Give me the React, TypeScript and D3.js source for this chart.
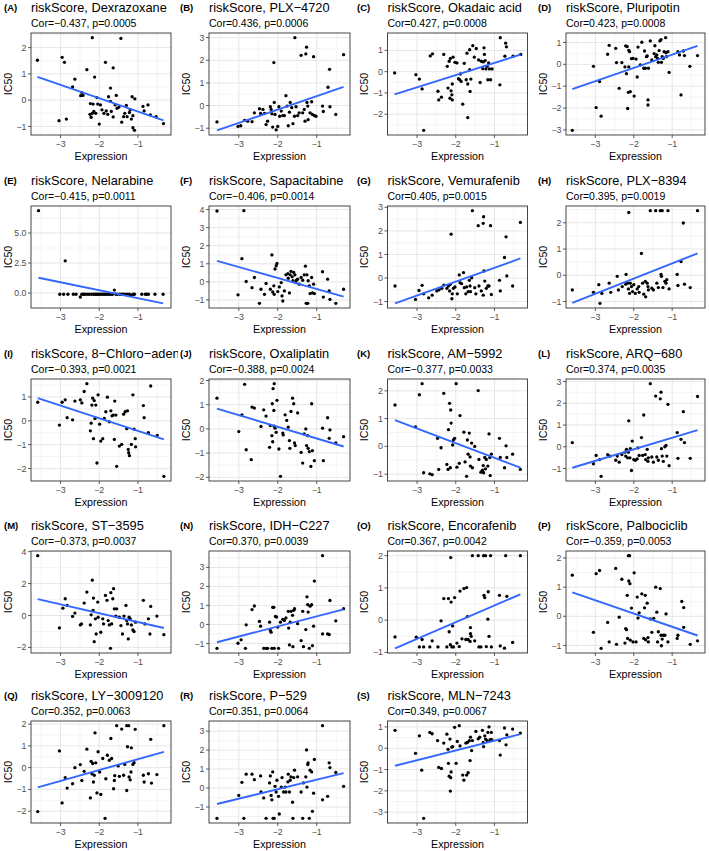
import React from 'react';
import * as d3 from 'd3';

type P = [number, number];

const panelLabels = ['A','B','C','D','E','F','G','H','I','J','K','L','M','N','O','P','Q','R','S'];
const drugs = ['Dexrazoxane','PLX−4720','Okadaic acid','Pluripotin','Nelarabine','Sapacitabine','Vemurafenib','PLX−8394','8−Chloro−adenosine','Oxaliplatin','AM−5992','ARQ−680','ST−3595','IDH−C227','Encorafenib','Palbociclib','LY−3009120','P−529','MLN−7243'];
const cors = ['−0.437','0.436','0.427','0.423','−0.415','−0.406','0.405','0.395','−0.393','−0.388','−0.377','0.374','−0.373','0.370','0.367','−0.359','0.352','0.351','0.349'];
const pvals = ['0.0005','0.0006','0.0008','0.0008','0.0011','0.0014','0.0015','0.0019','0.0021','0.0024','0.0033','0.0035','0.0037','0.0039','0.0042','0.0053','0.0063','0.0064','0.0067'];
const yTicks: number[][] = [
  [-1,0,1,2],[-1,0,1,2,3],[-2,-1,0,1],[-3,-2,-1,0,1],
  [0,2.5,5],[-1,0,1,2,3,4],[-1,0,1,2,3],[-1,0,1,2],
  [-2,-1,0,1],[-2,-1,0,1,2],[-1,0,1,2],[-1,0,1,2,3],
  [-2,0,2,4],[-1,0,1,2,3],[-1,0,1,2],[-1,0,1,2],
  [-2,-1,0,1,2],[-1,0,1,2,3],[-3,-2,-1,0,1],
];
const xTicks = [-3,-2,-1];

const ptsA: P[] = [[-3.60,1.52],[-3.04,-0.78],[-2.96,1.63],[-2.90,1.44],[-2.85,-0.72],[-2.69,0.50],[-2.63,0.80],[-2.48,0.17],[-2.45,0.29],[-2.42,0.18],[-2.32,1.16],[-2.18,2.38],[-2.23,-0.13],[-2.24,-0.54],[-2.21,-0.65],[-2.18,-0.50],[-2.16,-0.15],[-2.14,-0.43],[-2.12,0.88],[-2.09,-0.50],[-2.06,0.10],[-2.04,-0.15],[-2.00,-0.91],[-1.97,-0.18],[-1.93,-0.37],[-1.88,-0.50],[-1.84,1.44],[-1.82,-0.41],[-1.78,-0.54],[-1.76,0.13],[-1.71,0.46],[-1.71,-0.05],[-1.69,-0.43],[-1.64,1.23],[-1.64,-0.64],[-1.59,-0.18],[-1.56,0.18],[-1.54,-0.31],[-1.49,-0.26],[-1.44,2.35],[-1.42,-0.84],[-1.37,-0.63],[-1.34,-0.50],[-1.30,-0.20],[-1.28,-0.63],[-1.22,-0.47],[-1.20,-0.37],[-1.17,-0.72],[-1.15,0.13],[-1.13,-0.59],[-1.13,-1.05],[-1.09,-1.15],[-1.08,0.05],[-0.87,-0.24],[-0.84,-0.41],[-0.74,-0.18],[-0.68,-0.56],[-0.53,-0.63],[-0.34,-0.89]];
const ptsB: P[] = [[-3.56,-0.72],[-3.02,-0.92],[-2.95,-0.89],[-2.85,-0.65],[-2.77,-0.69],[-2.66,-0.71],[-2.60,-0.32],[-2.47,-0.14],[-2.44,-0.35],[-2.38,-0.17],[-2.34,-0.35],[-2.30,-0.84],[-2.26,-0.69],[-2.19,-0.05],[-2.17,-0.17],[-2.15,-0.36],[-2.13,-0.95],[-2.10,1.90],[-2.09,0.14],[-2.07,-0.39],[-2.04,-1.07],[-2.00,-0.92],[-1.97,-0.05],[-1.95,-0.47],[-1.91,-0.24],[-1.87,-0.44],[-1.83,-0.44],[-1.79,0.44],[-1.76,-0.02],[-1.73,-0.89],[-1.70,-0.29],[-1.68,0.14],[-1.64,-0.09],[-1.61,-0.80],[-1.57,-0.47],[-1.56,3.0],[-1.53,-0.05],[-1.49,-0.44],[-1.45,-0.32],[-1.40,2.22],[-1.36,-0.32],[-1.32,-0.17],[-1.30,-0.69],[-1.28,2.28],[-1.26,2.58],[-1.25,0.14],[-1.23,-0.02],[-1.22,-0.62],[-1.17,-0.32],[-1.13,0.17],[-1.11,-0.39],[-1.06,-0.44],[-1.08,2.16],[-1.02,-0.47],[-0.85,-0.02],[-0.83,-0.26],[-0.71,0.81],[-0.67,1.60],[-0.66,-0.05],[-0.51,-0.39],[-0.31,2.25]];
const ptsC: P[] = [[-3.58,-0.06],[-3.03,-0.14],[-2.94,-0.35],[-2.87,-0.81],[-2.83,-2.76],[-2.66,0.74],[-2.60,0.84],[-2.46,-0.92],[-2.44,-1.33],[-2.37,-1.20],[-2.31,0.81],[-2.22,0.25],[-2.20,-0.77],[-2.17,0.49],[-2.15,-1.25],[-2.14,0.62],[-2.12,-0.90],[-2.10,-1.09],[-2.09,-1.33],[-2.09,-0.58],[-2.07,0.68],[-2.02,0.44],[-1.97,0.41],[-1.93,-0.33],[-1.90,-0.38],[-1.88,-0.11],[-1.86,-0.46],[-1.82,-1.53],[-1.78,0.39],[-1.73,-0.38],[-1.71,0.87],[-1.69,-2.16],[-1.69,-0.58],[-1.64,1.03],[-1.64,0.09],[-1.63,-0.93],[-1.61,-0.35],[-1.56,1.22],[-1.52,0.68],[-1.47,1.09],[-1.41,0.55],[-1.37,-0.51],[-1.34,0.49],[-1.30,0.14],[-1.29,0.46],[-1.27,1.12],[-1.26,0.81],[-1.24,0.52],[-1.22,0.13],[-1.19,0.25],[-1.17,-0.38],[-1.15,0.41],[-1.13,0.13],[-1.10,-0.38],[-1.06,0.13],[-0.86,-0.62],[-0.85,1.60],[-0.71,1.34],[-0.69,1.17],[-0.73,0.73],[-0.52,0.73],[-0.32,0.81]];
const ptsD: P[] = [[-3.60,-3.02],[-3.05,-0.09],[-2.98,-1.98],[-2.89,-0.79],[-2.85,-2.37],[-2.68,0.46],[-2.64,0.87],[-2.47,0.73],[-2.45,0.08],[-2.38,-1.10],[-2.31,0.08],[-2.23,-0.12],[-2.21,0.84],[-2.19,-0.43],[-2.17,0.81],[-2.16,-2.02],[-2.14,-1.28],[-2.13,0.64],[-2.13,-0.12],[-2.11,0.58],[-2.09,-1.25],[-2.06,0.26],[-2.02,0.27],[-1.99,-1.45],[-1.94,0.24],[-1.91,-0.58],[-1.89,0.79],[-1.83,-0.03],[-1.79,1.01],[-1.74,-0.18],[-1.72,0.61],[-1.70,-0.18],[-1.67,0.35],[-1.65,0.38],[-1.63,-1.63],[-1.63,-1.86],[-1.62,-0.18],[-1.57,1.07],[-1.53,0.20],[-1.47,0.49],[-1.45,0.85],[-1.43,0.35],[-1.40,0.43],[-1.38,0.27],[-1.36,0.09],[-1.34,0.63],[-1.32,1.07],[-1.29,1.13],[-1.28,0.09],[-1.26,0.35],[-1.23,0.27],[-1.21,0.58],[-1.17,1.22],[-1.16,0.53],[-1.15,0.35],[-1.11,0.58],[-1.08,-0.37],[-0.85,0.58],[-0.81,0.43],[-0.77,-1.40],[-0.71,0.61],[-0.68,0.40],[-0.54,-0.09],[-0.34,0.40]];
const ptsE: P[] = [[-3.57,6.86],[-2.88,2.68],[-2.49,-0.33],[-1.61,0.25],[-1.18,-0.19],[-3.02,-0.1],[-2.92,-0.1],[-2.81,-0.1],[-2.67,-0.1],[-2.60,-0.1],[-2.45,-0.1],[-2.41,-0.1],[-2.37,-0.1],[-2.31,-0.1],[-2.26,-0.1],[-2.20,-0.1],[-2.15,-0.1],[-2.11,-0.1],[-2.07,-0.1],[-2.03,-0.1],[-2.00,-0.1],[-1.96,-0.1],[-1.91,-0.1],[-1.87,-0.1],[-1.83,-0.1],[-1.79,-0.1],[-1.74,-0.1],[-1.70,-0.1],[-1.66,-0.1],[-1.57,-0.1],[-1.53,-0.1],[-1.47,-0.1],[-1.42,-0.1],[-1.39,-0.1],[-1.34,-0.1],[-1.28,-0.1],[-1.22,-0.1],[-1.13,-0.1],[-1.09,-0.1],[-0.90,-0.1],[-0.81,-0.1],[-0.77,-0.1],[-0.73,-0.1],[-0.56,-0.1],[-0.35,-0.1]];
const ptsF: P[] = [[-3.56,3.92],[-3.02,-0.72],[-2.92,1.28],[-2.87,3.94],[-2.81,0.02],[-2.66,-0.32],[-2.60,0.24],[-2.47,-1.19],[-2.43,-0.41],[-2.34,-0.69],[-2.30,-0.09],[-2.19,-0.41],[-2.15,1.49],[-2.13,-0.56],[-2.09,-0.69],[-2.10,-0.22],[-2.07,0.71],[-2.04,0.89],[-2.02,1.02],[-2.00,-0.54],[-1.96,-0.28],[-1.91,-0.04],[-1.89,-0.78],[-1.87,-1.06],[-1.83,-0.50],[-1.79,0.39],[-1.74,0.46],[-1.73,0.20],[-1.70,-0.61],[-1.68,0.39],[-1.66,0.58],[-1.63,0.28],[-1.61,0.06],[-1.59,0.52],[-1.56,0.39],[-1.54,-0.04],[-1.52,0.09],[-1.49,0.15],[-1.45,-0.13],[-1.40,0.24],[-1.36,0.09],[-1.32,0.39],[-1.29,0.87],[-1.27,-1.19],[-1.25,0.39],[-1.23,-1.19],[-1.22,0.06],[-1.19,-0.22],[-1.17,-0.65],[-1.13,0.24],[-1.11,-0.61],[-1.08,-0.13],[-1.06,-0.65],[-0.85,0.56],[-0.83,-0.84],[-0.72,0.15],[-0.68,-0.50],[-0.66,-0.97],[-0.51,-1.19],[-0.31,-0.41]];
const ptsG: P[] = [[-3.57,-0.34],[-3.04,-0.91],[-2.95,-0.53],[-2.87,-0.31],[-2.83,-0.67],[-2.70,-0.84],[-2.61,-0.73],[-2.49,-0.55],[-2.43,-0.50],[-2.36,-0.44],[-2.31,-0.30],[-2.23,-0.44],[-2.19,-0.34],[-2.16,-0.55],[-2.14,-0.27],[-2.12,1.86],[-2.10,-0.88],[-2.09,-0.67],[-2.06,-0.44],[-2.02,-0.38],[-1.96,-0.67],[-1.91,0.13],[-1.89,-0.20],[-1.85,-0.24],[-1.80,0.23],[-1.78,-0.41],[-1.74,-0.67],[-1.72,-0.38],[-1.68,-0.58],[-1.65,-0.10],[-1.63,-0.34],[-1.62,-0.58],[-1.59,0.01],[-1.57,2.86],[-1.51,-0.41],[-1.48,-0.67],[-1.42,2.22],[-1.40,-0.34],[-1.34,-0.55],[-1.29,2.32],[-1.28,2.60],[-1.27,0.30],[-1.25,-0.13],[-1.29,-0.73],[-1.21,-0.44],[-1.17,-0.34],[-1.14,-0.34],[-1.10,2.22],[-1.08,-0.70],[-0.87,-0.10],[-0.85,-0.55],[-0.74,0.87],[-0.70,1.75],[-0.68,0.09],[-0.53,-0.34],[-0.33,2.36]];
const ptsH: P[] = [[-3.60,-0.56],[-3.05,-0.65],[-2.91,-0.36],[-2.88,-1.07],[-2.83,-0.69],[-2.64,-0.30],[-2.60,-0.65],[-2.43,-0.04],[-2.40,-0.56],[-2.30,-0.43],[-2.21,-0.34],[-2.20,0.03],[-2.16,-0.30],[-2.14,-0.52],[-2.13,2.39],[-2.11,-0.69],[-2.09,-0.30],[-2.06,-0.43],[-2.03,-0.62],[-2.00,-0.36],[-1.96,-0.69],[-1.91,-0.52],[-1.87,-0.43],[-1.86,-0.65],[-1.80,0.83],[-1.77,-0.30],[-1.74,-0.72],[-1.70,-0.23],[-1.69,-0.82],[-1.65,-0.30],[-1.63,-0.43],[-1.62,-0.56],[-1.57,2.46],[-1.53,-0.49],[-1.49,-0.56],[-1.43,2.46],[-1.40,-0.30],[-1.36,-0.47],[-1.31,2.46],[-1.29,0.03],[-1.28,-0.04],[-1.26,2.46],[-1.24,-0.47],[-1.19,-0.23],[-1.16,-0.30],[-1.14,-0.17],[-1.11,2.46],[-1.08,-0.52],[-0.87,0.03],[-0.85,-0.39],[-0.77,0.52],[-0.71,1.99],[-0.68,-0.34],[-0.53,-0.47],[-0.34,2.46]];
const ptsI: P[] = [[-3.59,0.78],[-3.03,-0.18],[-2.96,0.78],[-2.88,0.88],[-2.83,0.13],[-2.69,0.04],[-2.63,0.83],[-2.49,0.88],[-2.45,0.75],[-2.39,1.23],[-2.32,1.56],[-2.23,-0.42],[-2.21,-0.10],[-2.19,0.66],[-2.17,0.95],[-2.15,-0.75],[-2.13,0.85],[-2.11,0.10],[-2.09,0.66],[-2.06,-1.77],[-2.03,1.09],[-1.99,-0.14],[-1.96,-0.85],[-1.91,-0.75],[-1.87,0.10],[-1.83,0.38],[-1.79,0.99],[-1.74,-0.04],[-1.70,0.42],[-1.67,0.21],[-1.64,0.24],[-1.61,-0.78],[-1.60,0.83],[-1.57,0.24],[-1.55,-1.91],[-1.48,-1.06],[-1.42,-0.99],[-1.37,0.28],[-1.33,0.38],[-1.29,-0.33],[-1.27,0.42],[-1.25,-1.20],[-1.24,-1.34],[-1.22,-1.46],[-1.17,-0.99],[-1.13,1.09],[-1.10,-0.35],[-1.07,-0.75],[-1.06,-1.09],[-0.86,0.64],[-0.84,0.13],[-0.73,-0.50],[-0.67,1.46],[-0.50,-0.61],[-0.33,-2.33]];
const ptsJ: P[] = [[-3.56,1.27],[-3.00,-0.11],[-2.92,0.58],[-2.85,1.84],[-2.81,-0.86],[-2.66,0.90],[-2.60,0.86],[-2.68,-1.27],[-2.43,0.10],[-2.36,0.79],[-2.30,0.53],[-2.21,-0.76],[-2.19,0.14],[-2.15,-0.28],[-2.13,-0.53],[-2.14,1.04],[-2.12,1.66],[-2.09,1.87],[-2.10,0.76],[-2.09,0.11],[-2.07,0.03],[-2.04,-0.14],[-2.02,1.18],[-1.97,-0.83],[-1.93,-1.96],[-1.87,-0.17],[-1.86,-0.25],[-1.81,0.58],[-1.77,0.35],[-1.73,0.07],[-1.70,-0.48],[-1.69,-0.80],[-1.66,0.72],[-1.62,1.27],[-1.59,1.04],[-1.57,-0.58],[-1.55,-0.69],[-1.49,0.66],[-1.40,-0.97],[-1.36,-1.41],[-1.32,-0.21],[-1.28,0.00],[-1.26,-0.69],[-1.23,-0.28],[-1.22,-0.80],[-1.19,-0.94],[-1.15,-1.55],[-1.13,1.04],[-1.11,-0.90],[-1.06,-1.31],[-0.85,0.03],[-0.83,-1.31],[-0.72,0.46],[-0.68,-0.39],[-0.66,-0.04],[-0.51,-0.58],[-0.31,-0.32]];
const ptsK: P[] = [[-3.57,1.49],[-3.04,0.70],[-2.94,1.86],[-2.87,2.26],[-2.83,-0.95],[-2.67,-0.99],[-2.61,-1.02],[-2.47,0.29],[-2.44,-0.83],[-2.38,-0.05],[-2.31,1.91],[-2.23,-0.65],[-2.20,-0.83],[-2.19,0.60],[-2.16,1.55],[-2.14,-0.77],[-2.13,1.31],[-2.12,0.84],[-2.08,0.05],[-2.06,0.23],[-2.03,0.29],[-1.99,2.26],[-1.97,-0.75],[-1.91,-0.61],[-1.89,1.11],[-1.79,0.51],[-1.76,-0.56],[-1.72,-1.08],[-1.70,0.23],[-1.68,-0.28],[-1.65,0.48],[-1.63,-0.38],[-1.62,-0.71],[-1.59,0.12],[-1.57,-0.77],[-1.51,0.00],[-1.42,2.01],[-1.40,-0.47],[-1.35,-0.93],[-1.31,-0.86],[-1.29,-0.69],[-1.28,-0.95],[-1.25,-0.40],[-1.23,-0.81],[-1.21,-0.47],[-1.17,-0.71],[-1.14,0.45],[-1.12,-0.40],[-1.11,-1.05],[-1.08,-0.28],[-0.87,0.29],[-0.85,-0.40],[-0.74,-0.77],[-0.70,0.02],[-0.68,-0.40],[-0.53,-0.28],[-0.33,-0.83]];
const ptsL: P[] = [[-3.60,0.19],[-3.05,-0.78],[-2.98,-0.40],[-2.89,-0.59],[-2.85,-1.36],[-2.68,-0.36],[-2.62,-0.43],[-2.47,-0.62],[-2.43,-0.43],[-2.38,-0.71],[-2.31,-0.36],[-2.23,-0.25],[-2.21,-0.43],[-2.19,-0.12],[-2.16,-0.51],[-2.14,-0.25],[-2.13,1.19],[-2.10,-0.51],[-2.09,-0.09],[-2.06,-1.09],[-2.04,0.26],[-2.00,-0.59],[-1.96,-0.62],[-1.91,-0.56],[-1.89,-0.05],[-1.86,-0.40],[-1.80,0.42],[-1.77,-0.40],[-1.74,1.46],[-1.70,-0.36],[-1.69,-0.59],[-1.65,-0.12],[-1.63,-0.67],[-1.62,-0.51],[-1.57,2.90],[-1.53,-0.47],[-1.49,-0.71],[-1.43,2.33],[-1.40,-0.47],[-1.36,-0.62],[-1.31,2.20],[-1.29,2.51],[-1.28,-0.09],[-1.26,-0.43],[-1.23,-0.67],[-1.19,0.00],[-1.16,0.06],[-1.14,-0.43],[-1.11,1.95],[-1.08,-0.87],[-0.87,0.65],[-0.85,-0.53],[-0.77,0.34],[-0.71,1.61],[-0.68,0.19],[-0.53,-0.53],[-0.34,2.31]];
const ptsM: P[] = [[-3.59,3.75],[-3.03,-0.78],[-2.94,0.46],[-2.88,1.05],[-2.83,0.63],[-2.69,-0.06],[-2.63,0.15],[-2.49,-0.59],[-2.46,-0.53],[-2.39,0.78],[-2.32,1.47],[-2.23,-0.59],[-2.21,0.04],[-2.18,2.21],[-2.16,0.32],[-2.15,1.09],[-2.13,-1.64],[-2.10,-0.21],[-2.08,-1.16],[-2.04,0.84],[-2.03,-0.11],[-1.96,-1.05],[-1.91,-0.21],[-1.89,-0.53],[-1.84,1.26],[-1.80,0.95],[-1.77,-0.32],[-1.74,-0.59],[-1.71,-2.06],[-1.70,1.43],[-1.68,-0.53],[-1.65,1.05],[-1.63,1.68],[-1.61,0.42],[-1.57,-0.04],[-1.55,0.42],[-1.48,-0.11],[-1.44,-0.63],[-1.40,-1.16],[-1.36,-0.04],[-1.31,0.63],[-1.29,-0.32],[-1.27,-0.53],[-1.25,-1.47],[-1.23,-0.11],[-1.20,-0.21],[-1.17,-0.59],[-1.13,-0.91],[-1.10,-1.01],[-1.06,-0.42],[-0.86,0.95],[-0.82,-0.53],[-0.73,-0.21],[-0.67,0.57],[-0.69,-1.16],[-0.51,-0.04],[-0.33,-1.20]];
const ptsN: P[] = [[-3.56,-1.26],[-3.02,-0.99],[-2.94,-0.81],[-2.83,-1.26],[-2.81,-0.02],[-2.66,0.78],[-2.60,0.97],[-2.47,0.16],[-2.44,-0.09],[-2.36,-1.26],[-2.30,-1.26],[-2.26,-1.26],[-2.21,0.12],[-2.19,-0.32],[-2.17,-0.41],[-2.15,-1.26],[-2.13,0.90],[-2.10,0.90],[-2.09,-1.26],[-2.06,0.42],[-2.03,0.39],[-2.00,-0.14],[-1.98,-1.26],[-1.93,0.12],[-1.87,0.27],[-1.83,0.21],[-1.79,0.34],[-1.73,0.69],[-1.72,-0.19],[-1.70,-1.08],[-1.68,0.12],[-1.66,0.69],[-1.62,0.48],[-1.61,-1.17],[-1.59,0.74],[-1.57,0.83],[-1.49,0.04],[-1.40,-0.85],[-1.36,0.69],[-1.34,-1.17],[-1.28,-0.27],[-1.25,1.45],[-1.23,1.04],[-1.22,0.65],[-1.19,-1.26],[-1.17,0.96],[-1.13,1.04],[-1.11,-1.12],[-1.08,-0.09],[-1.06,2.28],[-0.85,3.62],[-0.85,-0.50],[-0.72,-0.50],[-0.68,-0.53],[-0.66,1.26],[-0.51,0.19],[-0.31,0.83]];
const ptsO: P[] = [[-3.57,-0.52],[-3.02,-0.53],[-2.94,-0.83],[-2.87,-0.60],[-2.83,-0.83],[-2.67,-0.83],[-2.61,-0.64],[-2.46,-0.83],[-2.38,-0.02],[-2.31,0.67],[-2.23,-0.83],[-2.19,0.67],[-2.17,-0.36],[-2.14,-0.76],[-2.13,1.94],[-2.12,0.56],[-2.10,-0.83],[-2.08,-0.18],[-2.06,-0.83],[-2.03,0.70],[-1.97,-0.71],[-1.91,-0.82],[-1.89,0.90],[-1.84,-0.58],[-1.79,0.98],[-1.74,-0.60],[-1.72,1.01],[-1.70,0.11],[-1.68,-0.60],[-1.63,-0.66],[-1.62,-0.23],[-1.62,-0.42],[-1.60,-0.50],[-1.57,2.0],[-1.51,-0.64],[-1.42,2.0],[-1.40,-0.83],[-1.35,-0.83],[-1.28,2.0],[-1.27,0.77],[-1.25,0.70],[-1.23,2.0],[-1.21,-0.82],[-1.17,0.03],[-1.16,0.88],[-1.14,-0.50],[-1.10,2.0],[-1.08,-0.83],[-0.87,0.77],[-0.85,-0.80],[-0.71,2.0],[-0.74,-0.87],[-0.68,0.74],[-0.53,-0.69],[-0.33,2.0]];
const ptsP: P[] = [[-3.60,1.41],[-3.05,-0.55],[-2.98,1.46],[-2.89,1.57],[-2.85,-1.10],[-2.68,-0.21],[-2.64,-0.88],[-2.47,1.64],[-2.45,-0.96],[-2.31,1.27],[-2.38,-0.03],[-2.23,-0.92],[-2.21,-0.42],[-2.19,-0.46],[-2.17,0.72],[-2.16,-0.76],[-2.14,2.08],[-2.13,1.21],[-2.11,2.08],[-2.10,1.12],[-2.09,-0.82],[-2.06,0.28],[-2.02,-0.88],[-1.99,1.49],[-1.94,-0.88],[-1.91,0.66],[-1.89,-0.06],[-1.86,0.12],[-1.79,0.77],[-1.74,-0.76],[-1.72,0.29],[-1.70,0.72],[-1.69,-0.81],[-1.65,0.45],[-1.63,-0.73],[-1.62,-0.88],[-1.57,-0.09],[-1.53,-0.55],[-1.48,-0.07],[-1.43,1.00],[-1.40,0.14],[-1.38,-0.88],[-1.36,-0.53],[-1.31,0.95],[-1.29,-0.65],[-1.28,-1.01],[-1.26,-0.78],[-1.23,-0.65],[-1.19,-0.65],[-1.16,0.08],[-1.11,-0.88],[-0.87,-0.76],[-0.85,-0.65],[-0.75,0.51],[-0.70,0.30],[-0.70,-0.38],[-0.53,-0.96],[-0.34,-0.84]];
const ptsQ: P[] = [[-3.59,-2.02],[-3.03,0.77],[-2.96,-1.62],[-2.88,-0.46],[-2.83,-0.94],[-2.69,-0.74],[-2.63,0.00],[-2.49,0.14],[-2.45,-0.59],[-2.39,-0.17],[-2.32,0.85],[-2.23,-1.39],[-2.21,0.29],[-2.19,-0.28],[-2.17,0.19],[-2.15,-0.66],[-2.13,-0.35],[-2.11,1.60],[-2.09,0.22],[-2.06,-1.16],[-2.03,0.73],[-1.99,-0.20],[-1.96,-1.23],[-1.91,0.42],[-1.85,-2.33],[-1.83,-0.51],[-1.79,0.57],[-1.74,0.34],[-1.70,1.34],[-1.68,0.42],[-1.63,-0.97],[-1.61,-0.59],[-1.60,-0.37],[-1.55,1.93],[-1.51,0.08],[-1.48,-0.40],[-1.42,1.77],[-1.37,-0.35],[-1.34,0.15],[-1.29,-1.05],[-1.29,1.93],[-1.27,0.96],[-1.24,1.93],[-1.23,-0.43],[-1.20,-0.56],[-1.18,-0.20],[-1.17,0.91],[-1.13,0.15],[-1.10,0.23],[-1.07,1.76],[-0.86,-0.35],[-0.84,-0.66],[-0.73,-0.28],[-0.67,1.30],[-0.65,-0.71],[-0.51,-0.32],[-0.33,1.93]];
const ptsR: P[] = [[-3.56,-1.60],[-3.00,-0.39],[-2.92,0.30],[-2.87,-1.60],[-2.81,0.73],[-2.66,0.73],[-2.60,0.44],[-2.44,0.64],[-2.43,-0.21],[-2.36,-0.52],[-2.30,-1.60],[-2.21,0.27],[-2.19,0.64],[-2.17,-0.39],[-2.15,-0.62],[-2.13,0.85],[-2.12,-1.60],[-2.09,-1.60],[-2.07,0.09],[-2.04,-0.21],[-2.02,0.41],[-1.98,-0.44],[-1.96,-1.37],[-1.91,0.05],[-1.89,0.55],[-1.85,-0.21],[-1.81,0.05],[-1.79,-0.21],[-1.74,0.32],[-1.73,0.73],[-1.70,-0.21],[-1.68,0.41],[-1.66,0.59],[-1.62,-0.75],[-1.61,-1.60],[-1.59,0.55],[-1.57,0.94],[-1.49,0.59],[-1.40,-0.21],[-1.36,-1.60],[-1.34,0.27],[-1.28,0.59],[-1.26,2.01],[-1.25,0.05],[-1.23,1.24],[-1.22,1.33],[-1.19,-1.60],[-1.17,0.94],[-1.13,0.85],[-1.11,-1.23],[-1.08,-0.27],[-1.06,1.51],[-0.85,3.29],[-0.85,-0.62],[-0.72,-0.44],[-0.68,1.33],[-0.66,1.08],[-0.51,0.82],[-0.31,0.09]];
const ptsS: P[] = [[-3.57,0.84],[-3.04,-0.24],[-2.94,0.58],[-2.88,-1.03],[-2.83,-3.29],[-2.67,0.74],[-2.61,0.68],[-2.47,0.36],[-2.44,-0.90],[-2.37,-0.95],[-2.31,0.24],[-2.23,0.66],[-2.20,-0.05],[-2.19,-0.71],[-2.17,-1.31],[-2.15,0.43],[-2.14,-2.01],[-2.13,-1.38],[-2.12,-1.11],[-2.10,0.05],[-2.08,0.08],[-2.03,0.98],[-1.99,-0.71],[-1.96,0.32],[-1.91,1.06],[-1.89,0.11],[-1.82,-1.26],[-1.79,-1.50],[-1.74,0.24],[-1.72,-1.26],[-1.70,0.27],[-1.68,-1.15],[-1.65,0.35],[-1.63,-0.58],[-1.62,0.52],[-1.59,-0.11],[-1.57,0.36],[-1.48,0.79],[-1.42,0.44],[-1.38,0.52],[-1.31,0.84],[-1.29,0.27],[-1.28,0.08],[-1.25,0.58],[-1.23,0.43],[-1.19,0.36],[-1.17,0.74],[-1.14,1.00],[-1.11,0.40],[-1.08,0.74],[-1.07,0.40],[-0.87,0.36],[-0.85,-0.32],[-0.74,0.95],[-0.70,0.16],[-0.68,0.63],[-0.53,0.90],[-0.33,0.71]];

const allPoints: P[][] = [ptsA,ptsB,ptsC,ptsD,ptsE,ptsF,ptsG,ptsH,ptsI,ptsJ,ptsK,ptsL,ptsM,ptsN,ptsO,ptsP,ptsQ,ptsR,ptsS];

// layout
const colLeft = [31, 209, 387.5, 566];
const colRight = [171, 350, 527.5, 705];
const colCell = [0, 178, 355, 533, 709];
const labelX = [4, 180, 357, 538];
const rowTop = [33, 206, 379, 551, 721];
const plotH = 102;
const FONT = '"Liberation Sans", Arial, Helvetica, sans-serif';

const fmt = (v: number, dec: boolean) => {
  const s = dec ? d3.format('.1f')(v) : d3.format('d')(v);
  return s.replace('-', '−');
};

function expand(ext: [number, number]): [number, number] {
  const r = ext[1] - ext[0];
  return [ext[0] - r * 0.05, ext[1] + r * 0.05];
}

const xAll = allPoints.flat().map(p => p[0]);
const xDomain = expand(d3.extent(xAll) as [number, number]);

function minorTicks(major: number[], dom: [number, number]) {
  const step = major[1] - major[0];
  const out: number[] = [];
  let v = major[0] - step / 2;
  while (v > dom[0]) v -= step;
  for (; v <= dom[1]; v += step) if (v >= dom[0]) out.push(v);
  return out;
}

function Panel({ i }: { i: number }) {
  const col = i % 4, row = Math.floor(i / 4);
  const pts = allPoints[i];
  const L = colLeft[col], R = colRight[col], T = rowTop[row], B = T + plotH;
  const xs = pts.map(p => p[0]), ys = pts.map(p => p[1]);
  const mx = d3.mean(xs)!, my = d3.mean(ys)!;
  const slope = d3.sum(pts, p => (p[0] - mx) * (p[1] - my)) / d3.sum(pts, p => (p[0] - mx) ** 2);
  const icpt = my - slope * mx;
  const [x0, x1] = d3.extent(xs) as [number, number];
  const lineY0 = icpt + slope * x0, lineY1 = icpt + slope * x1;
  const yExt: [number, number] = [Math.min(d3.min(ys)!, lineY0, lineY1), Math.max(d3.max(ys)!, lineY0, lineY1)];
  const yDomain = expand(yExt);
  const x = d3.scaleLinear().domain(xDomain).range([L, R]);
  const y = d3.scaleLinear().domain(yDomain).range([B, T]);
  const yt = yTicks[i];
  const dec = yt.some(v => !Number.isInteger(v));
  const yMinor = minorTicks(yt, yDomain);
  const xMinor = minorTicks(xTicks, xDomain);
  const line = d3.line<[number, number]>().x(d => x(d[0])).y(d => y(d[1]));
  const clipId = `clip-${i}`;
  const cellL = colCell[col], cellR = colCell[col + 1];
  return (
    <g>
      <defs>
        <clipPath id={clipId}><rect x={cellL} y={T - 40} width={cellR - cellL} height={200} /></clipPath>
      </defs>
      <text x={labelX[col]} y={T - 22.5} fontSize={9.5} fontWeight="bold" fontFamily={FONT} fill="#000">({panelLabels[i]})</text>
      <g clipPath={`url(#${clipId})`}>
        <text x={L} y={T - 21.5} fontSize={12.8} fontFamily={FONT} fill="#000">riskScore, {drugs[i]}</text>
      </g>
      <text x={L} y={T - 6} fontSize={10.5} fontFamily={FONT} fill="#000">Cor={cors[i]}, p={pvals[i]}</text>
      <rect x={L} y={T} width={R - L} height={B - T} fill="#fff" />
      {yMinor.map(v => <line key={'ym' + v} x1={L} x2={R} y1={y(v)} y2={y(v)} stroke="#ebebeb" strokeWidth={0.5} />)}
      {xMinor.map(v => <line key={'xm' + v} x1={x(v)} x2={x(v)} y1={T} y2={B} stroke="#ebebeb" strokeWidth={0.5} />)}
      {yt.map(v => <line key={'yg' + v} x1={L} x2={R} y1={y(v)} y2={y(v)} stroke="#e6e6e6" strokeWidth={1} />)}
      {xTicks.map(v => <line key={'xg' + v} x1={x(v)} x2={x(v)} y1={T} y2={B} stroke="#e6e6e6" strokeWidth={1} />)}
      {pts.map((p, k) => <circle key={k} cx={x(p[0])} cy={y(p[1])} r={1.65} fill="#000" />)}
      <path d={line([[x0, lineY0], [x1, lineY1]])!} stroke="#3366FF" strokeWidth={1.9} fill="none" />
      <rect x={L} y={T} width={R - L} height={B - T} fill="none" stroke="#333" strokeWidth={0.9} />
      {yt.map(v => (
        <g key={'yt' + v}>
          <line x1={L - 3} x2={L} y1={y(v)} y2={y(v)} stroke="#333" strokeWidth={0.8} />
          <text x={L - 4.5} y={y(v)} dy="0.35em" textAnchor="end" fontSize={8.8} fontFamily={FONT} fill="#4d4d4d">{fmt(v, dec)}</text>
        </g>
      ))}
      {xTicks.map(v => (
        <g key={'xt' + v}>
          <line x1={x(v)} x2={x(v)} y1={B} y2={B + 3} stroke="#333" strokeWidth={0.8} />
          <text x={x(v)} y={B + 12} textAnchor="middle" fontSize={8.8} fontFamily={FONT} fill="#4d4d4d">{fmt(v, false)}</text>
        </g>
      ))}
      <text x={(L + R) / 2} y={B + 25} textAnchor="middle" fontSize={10.7} fontFamily={FONT} fill="#000">Expression</text>
      <text transform={`translate(${L - 23},${(T + B) / 2}) rotate(-90)`} textAnchor="middle" dy="0.35em" fontSize={10.7} fontFamily={FONT} fill="#000">IC50</text>
    </g>
  );
}

export default function App() {
  return (
    <svg width={709} height={851} style={{ position: 'absolute', left: 0, top: 0, background: '#fff' }}>
      <rect width={709} height={851} fill="#fff" />
      {allPoints.map((_, i) => <Panel key={i} i={i} />)}
    </svg>
  );
}
